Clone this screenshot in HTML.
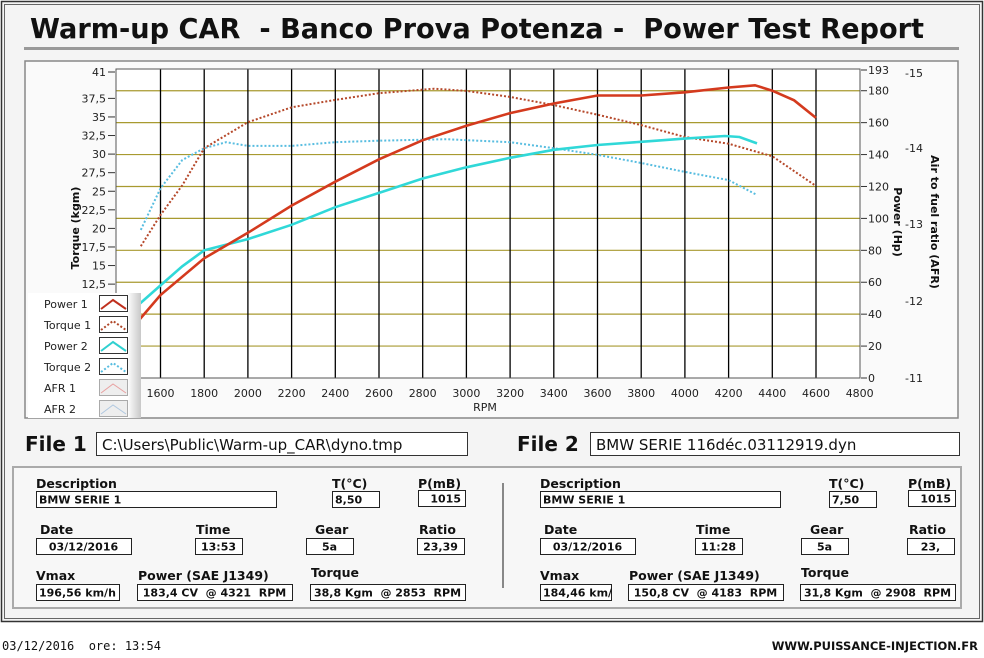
<!DOCTYPE html>
<html><head><meta charset="utf-8"><style>
body{margin:0;background:#fff;}
svg{display:block;font-family:"DejaVu Sans","Liberation Sans",sans-serif;}
svg text{white-space:pre;}
.t{font-size:11px;fill:#222;}
.lb{font-size:12.5px;font-weight:bold;fill:#111;}
.fv{font-size:11px;font-weight:bold;fill:#111;}
</style></head><body>
<svg id="s" width="984" height="658" viewBox="0 0 984 658">
<rect x="0" y="0" width="984" height="658" fill="#fff"/>
<rect x="1.5" y="1.5" width="981" height="620" fill="#f4f4f4" stroke="#333" stroke-width="1.5"/>
<rect x="4.5" y="4.5" width="975" height="614" fill="none" stroke="#666" stroke-width="1"/>
<text x="30" y="38" font-size="28" font-weight="bold" fill="#111" textLength="894" lengthAdjust="spacingAndGlyphs" xml:space="preserve">Warm-up CAR  - Banco Prova Potenza -  Power Test Report</text>
<rect x="24" y="47" width="935" height="3" fill="#999"/>
<rect x="25" y="61" width="933" height="357" fill="#fafafa" stroke="#888" stroke-width="1.5"/>
<rect x="116" y="69" width="744" height="309" fill="#fff"/>
<g id="grid"></g>
<g id="curves"></g>
<rect x="116" y="69" width="744" height="309" fill="none" stroke="#555" stroke-width="1"/>
<g id="axes"></g>
<text transform="translate(79,228) rotate(-90)" font-size="11" font-weight="bold" text-anchor="middle" fill="#111">Torque (kgm)</text>
<text transform="translate(894,222) rotate(90)" font-size="11" font-weight="bold" text-anchor="middle" fill="#111">Power (Hp)</text>
<text transform="translate(931,222) rotate(90)" font-size="11" font-weight="bold" text-anchor="middle" fill="#111">Air to fuel ratio (AFR)</text>
<text x="485" y="411" class="t" text-anchor="middle">RPM</text>
<defs><linearGradient id="lg" x1="0" x2="1"><stop offset="0.88" stop-color="#fff"/><stop offset="1" stop-color="#c8c8c8"/></linearGradient></defs>
<rect x="28" y="293" width="113" height="125" fill="url(#lg)"/>
<g id="leg"></g>
<g font-family="DejaVu Sans, sans-serif">
<text x="25" y="451" font-size="20" font-weight="bold" fill="#111">File 1</text>
<rect x="96.5" y="432.5" width="371" height="23" fill="#fff" stroke="#333"/>
<text x="102" y="450" font-size="15" fill="#111">C:\Users\Public\Warm-up_CAR\dyno.tmp</text>
<text x="517" y="451" font-size="20" font-weight="bold" fill="#111">File 2</text>
<rect x="590.5" y="432.5" width="369" height="23" fill="#fff" stroke="#333"/>
<text x="596" y="450" font-size="15" fill="#111">BMW SERIE 116déc.03112919.dyn</text>
</g>
<rect x="13" y="467" width="948" height="141" fill="#f7f7f7" stroke="#aaa" stroke-width="2"/>
<rect x="502" y="483" width="2" height="105" fill="#888"/>
<g id="info"></g>
<text x="2" y="650" font-size="12" fill="#111" font-family="DejaVu Sans Mono, monospace">03/12/2016  ore: 13:54</text>
<text x="978" y="650" font-size="11.5" font-weight="bold" fill="#111" text-anchor="end">WWW.PUISSANCE-INJECTION.FR</text>
</svg>
<script>
var NS="http://www.w3.org/2000/svg";
function el(p,n,a,txt){var e=document.createElementNS(NS,n);for(var k in a)e.setAttribute(k,a[k]);if(txt!==undefined)e.textContent=txt;document.getElementById(p).appendChild(e);return e;}
function X(r){return 116.8+(r-1400)*0.2185;}
function YP(p){return 378-p*1.596;}
function YT(t){return 377-t*7.43;}
for(var p=20;p<=180;p+=20)el("grid","line",{x1:116,x2:860,y1:YP(p),y2:YP(p),stroke:"#a89a30","stroke-width":1.2});
for(var r=1600;r<=4600;r+=200)el("grid","line",{x1:X(r),x2:X(r),y1:69,y2:378,stroke:"#000","stroke-width":1.3});
var tq=[[41,"41"],[37.5,"37,5"],[35,"35"],[32.5,"32,5"],[30,"30"],[27.5,"27,5"],[25,"25"],[22.5,"22,5"],[20,"20"],[17.5,"17,5"],[15,"15"],[12.5,"12,5"]];
tq.forEach(function(a){var y=a[0]==41?72:YT(a[0]);el("axes","text",{x:106,y:y+4,"class":"t","text-anchor":"end"},a[1]);el("axes","line",{x1:108,x2:115,y1:y,y2:y,stroke:"#333"});});
var pw=[193,180,160,140,120,100,80,60,40,20,0];
pw.forEach(function(v){var y=v==193?70:YP(v);el("axes","text",{x:868,y:y+4,"class":"t"},v);el("axes","line",{x1:861,x2:867,y1:y,y2:y,stroke:"#333"});});
[[-15,73],[-14,148],[-13,224],[-12,301],[-11,378]].forEach(function(a){el("axes","text",{x:905,y:a[1]+4,"class":"t"},a[0]);});
for(var r=1600;r<=4800;r+=200)el("axes","text",{x:X(r),y:397,"class":"t","text-anchor":"middle"},r);
function path(pts,fy){return pts.map(function(p,i){return (i?"L":"M")+X(p[0]).toFixed(1)+","+fy(p[1]).toFixed(1);}).join(" ");}
var p1=[[1500,36],[1600,52],[1800,75],[2000,91],[2200,108],[2400,123],[2600,137],[2800,149],[3000,158],[3200,166],[3400,172],[3600,177],[3800,177],[4000,179],[4200,182],[4321,183.4],[4400,180],[4500,174],[4600,163]];
var p2=[[1500,46],[1600,58],[1700,70],[1800,80],[2000,87],[2200,96],[2400,107],[2600,116],[2800,125],[3000,132],[3200,138],[3400,143],[3600,146],[3800,148],[4000,150],[4183,151.6],[4250,151],[4330,147]];
var t1=[[1510,17.6],[1600,21.8],[1700,25.8],[1800,30.8],[2000,34.3],[2200,36.3],[2400,37.3],[2600,38.2],[2853,38.8],[3000,38.5],[3200,37.7],[3400,36.6],[3600,35.3],[3800,33.9],[4000,32.3],[4200,31.4],[4400,29.7],[4600,25.7]];
var t2=[[1510,19.8],[1600,25.4],[1700,29.2],[1800,30.8],[1900,31.6],[2000,31.1],[2200,31.1],[2400,31.6],[2600,31.8],[2908,32.0],[3200,31.6],[3400,30.8],[3600,29.9],[3800,28.8],[4000,27.6],[4200,26.5],[4330,24.5]];
el("curves","path",{d:path(t2,YT),fill:"none",stroke:"#58bde0","stroke-width":2,"stroke-dasharray":"2 2"});
el("curves","path",{d:path(t1,YT),fill:"none",stroke:"#b5482a","stroke-width":2,"stroke-dasharray":"2 2"});
el("curves","path",{d:path(p2,YP),fill:"none",stroke:"#30d8d8","stroke-width":2.6});
el("curves","path",{d:path(p1,YP),fill:"none",stroke:"#d43a1e","stroke-width":2.6});
var L=[["Power 1","#c0301e",""],["Torque 1","#b0482a","2 2"],["Power 2","#30d0d0",""],["Torque 2","#58bde0","2 2"],["AFR 1","#e8a0a0",""],["AFR 2","#b0c8e0",""]];
L.forEach(function(a,i){var y=304+i*21;el("leg","text",{x:44,y:y+4,"class":"t","font-size":"10.5"},a[0]);
var bg=i>=4?"#eee":"#fff";el("leg","rect",{x:99.5,y:y-8.5,width:28,height:16,fill:bg,stroke:i>=4?"#aaa":"#333"});
el("leg","path",{d:"M101,"+(y+5)+" L113,"+(y-4)+" L126,"+(y+5),fill:"none",stroke:a[1],"stroke-width":i>=4?1:2,"stroke-dasharray":a[2]});});
function lab(x,y,t){el("info","text",{x:x,y:y,"class":"lb"},t);}
function box(x,y,w,t,anchor){el("info","rect",{x:x+.5,y:y+.5,width:w,height:16,fill:"#fff",stroke:"#222"});
 var tx=anchor=="end"?x+w-4:anchor=="middle"?x+w/2:x+3;el("info","text",{x:tx,y:y+12.5,"class":"fv","text-anchor":anchor||"start"},t);}
function panel(P,d){
 lab(P.d,488,"Description");box(P.d,491,240,"BMW SERIE 1");
 lab(P.t,488,"T(°C)");box(P.t,491,47,d.t);
 lab(P.p,488,"P(mB)");box(P.p,490,47,"1015","end");
 lab(P.d+4,534,"Date");box(P.d,538,95,"03/12/2016","middle");
 lab(P.ti+1,534,"Time");box(P.ti,538,47,d.time,"middle");
 lab(P.g+9,534,"Gear");box(P.g,538,47,"5a","middle");
 lab(P.r+2,534,"Ratio");box(P.r,538,47,d.ratio,"middle");
 lab(P.d,580,"Vmax");box(P.d,584,d.vw,d.v);
 lab(P.pw+1,580,"Power (SAE J1349)");box(P.pw,584,155,d.pow,"middle");
 lab(P.tq+1,577,"Torque");box(P.tq,584,155,d.tq,"middle");
}
panel({d:36,t:332,p:418,ti:195,g:306,r:417,pw:137,tq:310},{t:"8,50",time:"13:53",ratio:"23,39",v:"196,56 km/h",vw:83,pow:"183,4 CV  @ 4321  RPM",tq:"38,8 Kgm  @ 2853  RPM"});
panel({d:540,t:829,p:908,ti:695,g:801,r:907,pw:628,tq:800},{t:"7,50",time:"11:28",ratio:"23,",v:"184,46 km/",vw:71,pow:"150,8 CV  @ 4183  RPM",tq:"31,8 Kgm  @ 2908  RPM"});
</script>
</body></html>
